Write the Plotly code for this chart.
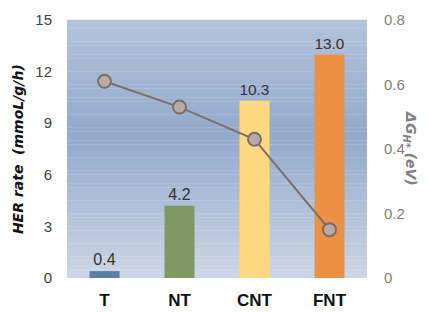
import plotly.graph_objects as go

categories = ["T", "NT", "CNT", "FNT"]
her_rate = [0.4, 4.2, 10.3, 13.0]
delta_g = [0.61, 0.53, 0.43, 0.15]
bar_colors = ["#5a7ea6", "#7f9866", "#ffd97f", "#ec9043"]
left_ticks = [0, 3, 6, 9, 12, 15]
right_ticks = [0, 0.2, 0.4, 0.6, 0.8]
right_tick_text = ["0", "0.2", "0.4", "0.6", "0.8"]

fig = go.Figure()
fig.add_trace(go.Bar(
    x=categories, y=her_rate, marker=dict(color=bar_colors, line=dict(width=0)),
    width=0.4, text=[f"{v:.1f}" for v in her_rate], textposition="outside",
    textfont=dict(family="Liberation Sans, Arial", size=16, color="#333333"),
    cliponaxis=False, showlegend=False))
fig.add_trace(go.Scatter(
    x=categories, y=delta_g, yaxis="y2", mode="lines+markers",
    line=dict(color="#7a706a", width=2),
    marker=dict(size=13, color="#b8aba6", line=dict(color="#7a6e68", width=2)),
    showlegend=False))

# vertical gradient background
def lerp(c1, c2, t):
    return tuple(int(round(a + (b - a) * t)) for a, b in zip(c1, c2))
top = (0xb3, 0xc3, 0xdb)
mid = (0x93, 0xaa, 0xcb)
bot = (0xcc, 0xd6, 0xe6)
n = 60
shapes = []
for i in range(n):
    f = (i + 0.5) / n  # from top
    if f < 0.45:
        c = lerp(top, mid, f / 0.45)
    else:
        c = lerp(mid, bot, (f - 0.45) / 0.55)
    shapes.append(dict(type="rect", xref="paper", yref="paper", x0=0, x1=1,
                       y0=1 - (i + 1) / n, y1=1 - i / n + 0.001, layer="below",
                       line=dict(width=0), fillcolor="rgb(%d,%d,%d)" % c))

fig.update_layout(
    width=428, height=312, margin=dict(l=67, r=61, t=20, b=34, autoexpand=False),
    paper_bgcolor="white", plot_bgcolor="rgba(0,0,0,0)", shapes=shapes,
    bargap=0.6,
    xaxis=dict(showgrid=False, zeroline=False, showline=False, ticks="", automargin=False,
               tickfont=dict(family="Liberation Sans, Arial", size=17, color="#111111", weight="bold"),
               ticklabelstandoff=10),
    yaxis=dict(range=[0, 15], tickvals=left_ticks, showgrid=False, zeroline=False,
               showline=False, ticks="", ticklabelstandoff=14, automargin=False,
               tickfont=dict(family="Liberation Sans, Arial", size=15, color="#404040")),
    yaxis2=dict(range=[0, 0.8], tickvals=right_ticks, ticktext=right_tick_text,
                overlaying="y", side="right", showgrid=False, zeroline=False,
                showline=False, ticks="", ticklabelstandoff=16, automargin=False,
                tickfont=dict(family="Liberation Sans, Arial", size=15, color="#808080")),
    annotations=[
        dict(text="<b><i>HER rate  (mmoL/g/h)</i></b>", xref="paper", yref="paper",
             x=-0.163, y=0.5, textangle=-90, showarrow=False, xanchor="center", yanchor="middle",
             font=dict(family="DejaVu Sans", size=14, color="#111111")),
        dict(text="<b><i>ΔG<sub>H*</sub> (eV)</i></b>", xref="paper", yref="paper",
             x=1.143, y=0.5, textangle=90, showarrow=False, xanchor="center", yanchor="middle",
             font=dict(family="DejaVu Sans", size=14, color="#808080")),
    ],
)
fig.write_html("out.html", config={"displayModeBar": False},
               post_script="document.body.style.margin='0';document.body.style.padding='0';")
